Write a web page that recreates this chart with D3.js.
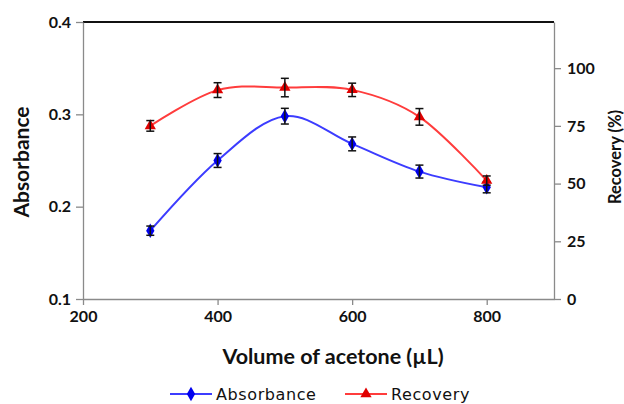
<!DOCTYPE html>
<html>
<head>
<meta charset="utf-8">
<script src="https://cdn.jsdelivr.net/npm/d3@7"></script>
<style>
  body { margin: 0; background: #fff; }
  svg { display: block; }
</style>
</head>
<body>
<svg id="chart"></svg>
<script>
// data
const volumes = [300, 400, 500, 600, 700, 800];
const absorbance = [0.174, 0.250, 0.298, 0.268, 0.238, 0.221];
const absorbanceErr = [0.005, 0.0075, 0.0085, 0.0075, 0.007, 0.006];
const recovery = [75.0, 90.5, 91.6, 90.6, 78.9, 51.3];
const recoveryErr = [2.3, 3.2, 4.0, 2.9, 3.6, 2.0];
const xTicks = [200, 400, 600, 800];
const yLeftTicks = [0.1, 0.2, 0.3, 0.4];
const yRightTicks = [0, 25, 50, 75, 100];

const width = 624, height = 404;
const margin = {top: 22, right: 70, bottom: 105, left: 83};

const svg = d3.select("#chart")
    .attr("width", width)
    .attr("height", height)
    .attr("viewBox", [0, 0, width, height]);

const x = d3.scaleLinear()
    .domain([200, 900])
    .range([margin.left, width - margin.right]);

const yL = d3.scaleLinear()
    .domain([0.1, 0.4])
    .range([height - margin.bottom, margin.top]);

const yR = d3.scaleLinear()
    .domain([0, 120])
    .range([height - margin.bottom, margin.top]);

const tickFont = "Lato, 'Open Sans', sans-serif";
const axisGrey = "#8a8a8a";

function styleAxis(g) {
    g.select(".domain").attr("stroke", axisGrey).attr("stroke-width", 1.3);
    g.selectAll(".tick line").attr("stroke", axisGrey).attr("stroke-width", 1.3);
    g.selectAll(".tick text")
        .attr("fill", "#111")
        .attr("font-family", tickFont)
        .attr("font-weight", "bold")
        .attr("font-size", 16);
}

// top border
svg.append("line")
    .attr("x1", x(200)).attr("x2", x(900))
    .attr("y1", yL(0.4)).attr("y2", yL(0.4))
    .attr("stroke", "#111")
    .attr("stroke-width", 1.8);

svg.append("g")
    .attr("transform", `translate(0,${height - margin.bottom})`)
    .call(d3.axisBottom(x).tickValues(xTicks).tickSize(6).tickSizeOuter(0).tickPadding(6))
    .call(styleAxis);

svg.append("g")
    .attr("transform", `translate(${margin.left},0)`)
    .call(d3.axisLeft(yL).tickValues(yLeftTicks).tickFormat(d3.format(".1f")).tickSize(7).tickSizeOuter(0).tickPadding(5))
    .call(styleAxis);

svg.append("g")
    .attr("transform", `translate(${width - margin.right},0)`)
    .call(d3.axisRight(yR).tickValues(yRightTicks).tickSize(7).tickSizeOuter(0).tickPadding(6))
    .call(styleAxis);

// axis titles
const titleFont = "Lato, 'Open Sans', sans-serif";
svg.append("text")
    .attr("x", 333)
    .attr("y", 364)
    .attr("text-anchor", "middle")
    .attr("font-family", titleFont)
    .attr("font-weight", "bold")
    .attr("font-size", 21.5)
    .attr("fill", "#111")
    .text("Volume of acetone (µL)");

svg.append("text")
    .attr("transform", `translate(29,162) rotate(-90)`)
    .attr("text-anchor", "middle")
    .attr("font-family", titleFont)
    .attr("font-weight", "bold")
    .attr("font-size", 21)
    .attr("fill", "#111")
    .text("Absorbance");

svg.append("text")
    .attr("transform", `translate(621,157) rotate(-90)`)
    .attr("text-anchor", "middle")
    .attr("font-family", titleFont)
    .attr("font-weight", "bold")
    .attr("font-size", 16.5)
    .attr("fill", "#111")
    .text("Recovery (%)");

// series
const series = [
    {name: "Absorbance", vals: absorbance, errs: absorbanceErr, y: yL, line: "#3c3cff", mark: "#0000ee", sym: d3.symbolDiamond, size: 60},
    {name: "Recovery", vals: recovery, errs: recoveryErr, y: yR, line: "#ff3c3c", mark: "#e00000", sym: d3.symbolTriangle, size: 55}
];

series.forEach(s => {
    const pts = volumes.map((v, i) => ({x: v, y: s.vals[i], e: s.errs[i]}));
    const line = d3.line()
        .x(d => x(d.x))
        .y(d => s.y(d.y))
        .curve(d3.curveCatmullRom.alpha(0));

    svg.append("path")
        .datum(pts)
        .attr("fill", "none")
        .attr("stroke", s.line)
        .attr("stroke-width", 2)
        .attr("d", line);

    svg.append("g")
        .selectAll("path")
        .data(pts)
        .join("path")
        .attr("transform", d => `translate(${x(d.x)},${s.y(d.y)})`)
        .attr("d", d3.symbol(s.sym, s.size))
        .attr("fill", s.mark);

    const eb = svg.append("g")
        .attr("stroke", "#111")
        .attr("stroke-width", 1.5)
        .selectAll("g")
        .data(pts)
        .join("g");
    eb.append("line")
        .attr("x1", d => x(d.x)).attr("x2", d => x(d.x))
        .attr("y1", d => s.y(d.y - d.e)).attr("y2", d => s.y(d.y + d.e));
    eb.append("line")
        .attr("x1", d => x(d.x) - 4).attr("x2", d => x(d.x) + 4)
        .attr("y1", d => s.y(d.y + d.e)).attr("y2", d => s.y(d.y + d.e));
    eb.append("line")
        .attr("x1", d => x(d.x) - 4).attr("x2", d => x(d.x) + 4)
        .attr("y1", d => s.y(d.y - d.e)).attr("y2", d => s.y(d.y - d.e));
});

// legend
const legendY = 394;
const legendX = [170, 345];
series.forEach((s, i) => {
    const g = svg.append("g").attr("transform", `translate(${legendX[i]},${legendY})`);
    g.append("line")
        .attr("x1", 0).attr("x2", 42)
        .attr("stroke", s.line)
        .attr("stroke-width", 2);
    g.append("path")
        .attr("transform", "translate(21,0)")
        .attr("d", d3.symbol(s.sym, s.size))
        .attr("fill", s.mark);
    g.append("text")
        .attr("x", 46)
        .attr("y", 6)
        .attr("font-family", "'DejaVu Sans', sans-serif")
        .attr("font-size", 16)
        .attr("letter-spacing", 0.6)
        .attr("fill", "#111")
        .text(s.name);
});
</script>
</body>
</html>
